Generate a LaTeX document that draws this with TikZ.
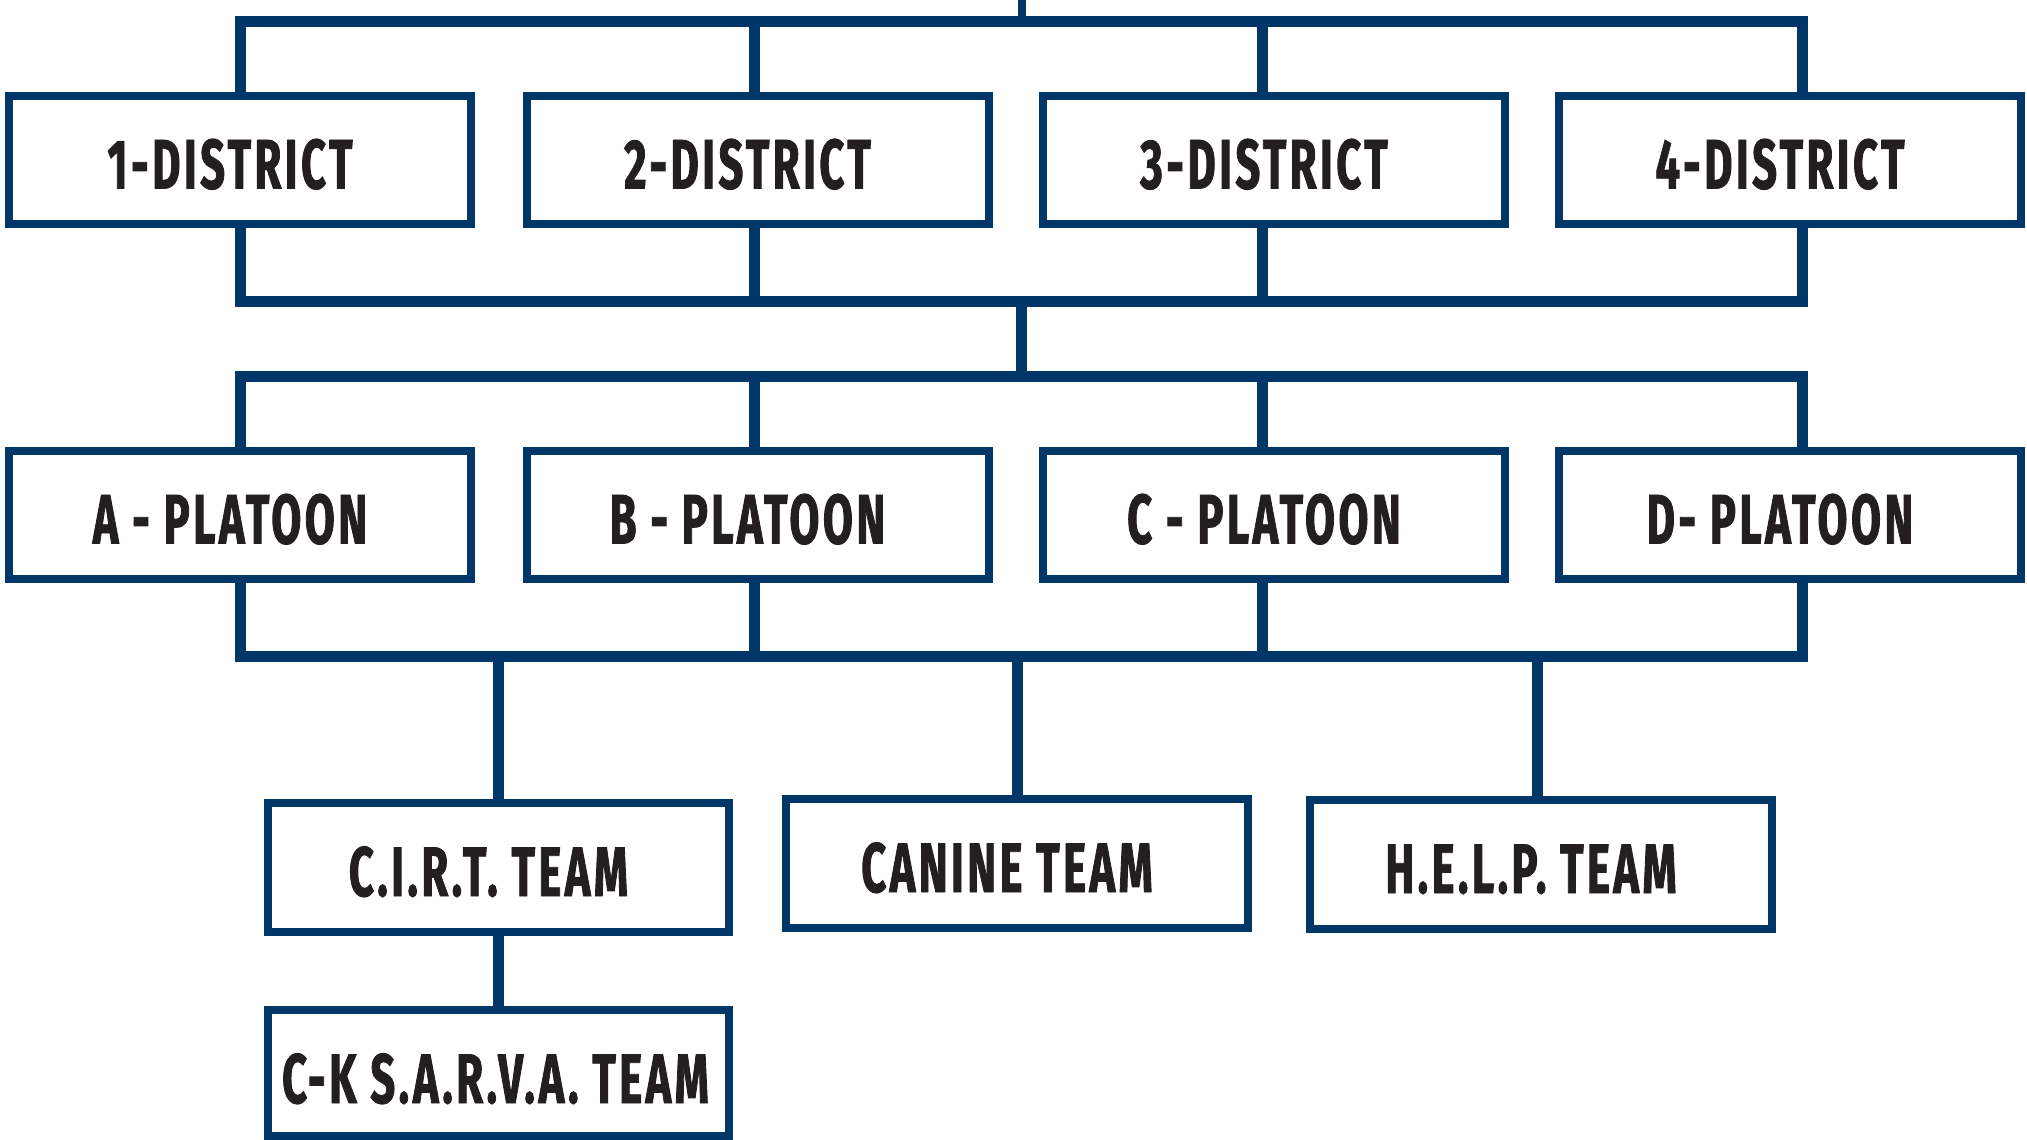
\documentclass[tikz,border=0pt]{standalone}
\usepackage{fontspec}
\newfontfamily\lblfont{Fira Sans}[UprightFont=* Bold, FakeStretch=0.62, FakeBold=1.2, LetterSpace=5]
\definecolor{navy}{RGB}{0,55,104}
\definecolor{ink}{RGB}{35,31,32}
\newcommand{\shtxt}[1]{#1\hspace*{20pt}}
\tikzset{
  box/.style={draw=navy, line width=8pt, rectangle, inner sep=0pt,
    minimum width=462pt, minimum height=128pt, fill=white, text=ink,
    font=\lblfont\fontsize{70}{70}\selectfont, text height=57pt, text depth=0pt},
  conn/.style={draw=navy, line width=11pt},
  stub/.style={draw=navy, line width=8pt},
}
\begin{document}
\begin{tikzpicture}[x=1pt,y=-1pt]
\fill[white] (0,0) rectangle (2027,1140);
\useasboundingbox (0,0) rectangle (2027,1140);

% districts
\node[box] (d1) at (240,160)    {\shtxt{1-DISTRICT}};
\node[box] (d2) at (757.5,160)  {\shtxt{2-DISTRICT}};
\node[box] (d3) at (1274,160)   {\shtxt{3-DISTRICT}};
\node[box] (d4) at (1790,160)   {\shtxt{4-DISTRICT}};
% platoons
\node[box] (p1) at (240,515)    {\shtxt{A - PLATOON}};
\node[box] (p2) at (757.5,515)  {\shtxt{B - PLATOON}};
\node[box] (p3) at (1274,515)   {\shtxt{C - PLATOON}};
\node[box] (p4) at (1790,515)   {\shtxt{D- PLATOON}};
% teams
\node[box, minimum width=461pt, minimum height=129pt] (cirt) at (498.5,867.5) {\shtxt{C.I.R.T. TEAM}};
\node[box, minimum height=129pt] (canine) at (1017,863.5) {\shtxt{CANINE TEAM}};
\node[box, minimum height=129pt] (help) at (1541,864.5) {\shtxt{H.E.L.P. TEAM}};
\node[box, minimum width=461pt, minimum height=126pt, text height=60pt] (sarva) at (498.5,1073) {C-K S.A.R.V.A. TEAM\hspace*{6pt}};

% bus coordinates
\coordinate (root) at (1022,0);
\coordinate (bus1) at (1021,21.5);
\coordinate (bus2) at (1021,301.5);
\coordinate (bus3) at (1021,376);
\coordinate (bus4) at (1017,656.5);

\path (d2.north) ++(-3,0) coordinate (d2t) (d3.north) ++(-12,0) coordinate (d3t) (d4.north) ++(12,0) coordinate (d4t);
\path (d2.south) ++(-3,0) coordinate (d2b) (d3.south) ++(-12,0) coordinate (d3b) (d4.south) ++(12,0) coordinate (d4b);
\path (p2.north) ++(-3,0) coordinate (p2t) (p3.north) ++(-12,0) coordinate (p3t) (p4.north) ++(12,0) coordinate (p4t);
\path (p2.south) ++(-3,0) coordinate (p2b) (p3.south) ++(-12,0) coordinate (p3b) (p4.south) ++(12,0) coordinate (p4b);
\path (help.north) ++(-3.5,0) coordinate (helpt);

% root stub
\draw[stub] (root) -- (root |- bus1);
% district top bus
\draw[conn] (d1.north) |- (bus1) -| (d4t);
\draw[conn] (d2t) -- (d2t |- bus1);
\draw[conn] (d3t) -- (d3t |- bus1);
% district bottom bus
\draw[conn] (d1.south) |- (bus2) -| (d4b);
\draw[conn] (d2b) -- (d2b |- bus2);
\draw[conn] (d3b) -- (d3b |- bus2);
% link to platoons
\draw[conn] (bus2) -- (bus3);
% platoon top bus
\draw[conn] (p1.north) |- (bus3) -| (p4t);
\draw[conn] (p2t) -- (p2t |- bus3);
\draw[conn] (p3t) -- (p3t |- bus3);
% platoon bottom bus
\draw[conn] (p1.south) |- (bus4) -| (p4b);
\draw[conn] (p2b) -- (p2b |- bus4);
\draw[conn] (p3b) -- (p3b |- bus4);
% teams
\draw[conn] (cirt.north |- bus4) -- (cirt.north);
\draw[conn] (canine.north |- bus4) -- (canine.north);
\draw[conn] (helpt |- bus4) -- (helpt);
\draw[conn] (cirt.south) -- (sarva.north);
\end{tikzpicture}
\end{document}
